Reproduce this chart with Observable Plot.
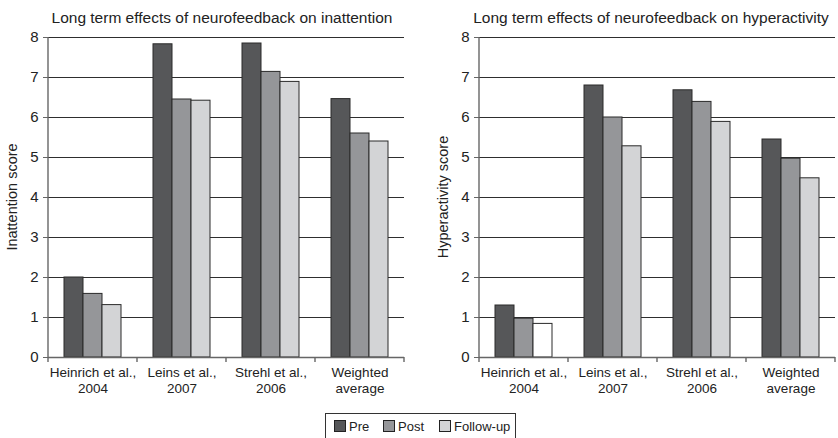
<!DOCTYPE html>
<html><head><meta charset="utf-8">
<script src="https://cdn.jsdelivr.net/npm/d3@7"></script>
<script src="https://cdn.jsdelivr.net/npm/@observablehq/plot@0.6"></script>
<style>
body{margin:0;background:#fff;font-family:"Liberation Sans",Arial,sans-serif;overflow:hidden}
#wrap{position:relative;width:838px;height:438px;overflow:hidden}
.panel{position:absolute;top:0}
.title{position:absolute;top:9px;font-size:15.5px;line-height:18px;color:#222;white-space:nowrap;transform:translateX(-50%)}
.ylab{position:absolute;font-size:14.5px;color:#222;white-space:nowrap;transform:translate(-50%,-50%) rotate(-90deg)}
.legend{position:absolute;left:325px;top:413px;width:191px;height:32px;border:1px solid #333;box-sizing:border-box;font-size:13px;color:#222}
.item{position:absolute;top:6px;height:14px;line-height:14px;white-space:nowrap}
.sw{display:inline-block;width:10px;height:10px;border:1px solid #222;vertical-align:-1px;margin-right:3px}
</style>
</head><body>
<div id="wrap"></div>
<script>
const studies = ["Heinrich et al., 2004", "Leins et al., 2007", "Strehl et al., 2006", "Weighted average"];
const studyLabels = ["Heinrich et al.,\n2004", "Leins et al.,\n2007", "Strehl et al.,\n2006", "Weighted\naverage"];
const phases = ["Pre", "Post", "Follow-up"];
const phaseColors = ["#565759", "#959699", "#d3d4d6"];
const yTicks = [0, 1, 2, 3, 4, 5, 6, 7, 8];

const inattentionPre = [2.0, 7.83, 7.85, 6.46];
const inattentionPost = [1.59, 6.45, 7.14, 5.6];
const inattentionFollow = [1.31, 6.42, 6.89, 5.4];

const hyperactivityPre = [1.3, 6.8, 6.68, 5.45];
const hyperactivityPost = [0.97, 6.0, 6.39, 4.97];
const hyperactivityFollow = [0.84, 5.28, 5.89, 4.48];

// bar drawn unfilled in the original figure
const whiteBars = [["hyperactivity", "Heinrich et al., 2004", "Follow-up"]];

const titles = ["Long term effects of neurofeedback on inattention", "Long term effects of neurofeedback on hyperactivity"];
const yLabels = ["Inattention score", "Hyperactivity score"];

const wrap = document.getElementById("wrap");

function panel(key, series, left, width, marginLeft, marginRight, titleX, ylabX, title, ylab) {
  const data = studies.flatMap((s, i) => phases.map((p, j) => ({study: s, phase: p, value: series[j][i]})));
  const colorOf = d => whiteBars.some(w => w[0] === key && w[1] === d.study && w[2] === d.phase) ? "#fff" : phaseColors[phases.indexOf(d.phase)];
  const plot = Plot.plot({
    width, height: 410,
    marginTop: 37, marginBottom: 53, marginLeft, marginRight,
    style: {fontFamily: "Liberation Sans, Arial, sans-serif", fontSize: "14px", color: "#222", background: "transparent", overflow: "visible"},
    fx: {domain: studies, paddingInner: 0, paddingOuter: 0, label: null, axis: null},
    x: {domain: phases, paddingInner: 0, paddingOuter: 0.78, axis: null},
    y: {domain: [0, 8], label: null},
    marks: [
      Plot.ruleY(yTicks, {stroke: "#2e2e2e", strokeWidth: 1}),
      Plot.barY(data, {fx: "study", x: "phase", y: "value", fill: colorOf, stroke: "#2a2a2a", strokeWidth: 1}),
      Plot.ruleY([0], {stroke: "#666", strokeWidth: 1.3}),
      Plot.axisY(yTicks, {tickSize: 5, tickPadding: 5, fontSize: 15, label: null, stroke: "#666"}),
      Plot.axisFx({anchor: "bottom", tickSize: 0, tickPadding: 8, fontSize: 13.5, lineHeight: 1.2, label: null, tickFormat: s => studyLabels[studies.indexOf(s)]})
    ]
  });
  const svg = d3.select(plot);
  const fx = plot.scale("fx"), y = plot.scale("y");
  const y0 = y.apply(0), y8 = y.apply(8);
  const x0 = fx.apply(studies[0]);
  const edges = studies.map(s => fx.apply(s)).concat([fx.apply(studies[studies.length - 1]) + fx.bandwidth]);
  const g = svg.append("g").attr("stroke", "#666").attr("stroke-width", 1.4);
  g.append("line").attr("x1", x0).attr("x2", x0).attr("y1", y8).attr("y2", y0);
  edges.forEach(e => g.append("line").attr("x1", e).attr("x2", e).attr("y1", y0).attr("y2", y0 + 5));
  const box = document.createElement("div");
  box.className = "panel";
  box.style.left = left + "px";
  box.appendChild(plot);
  wrap.appendChild(box);
  const t = document.createElement("div");
  t.className = "title"; t.textContent = title; t.style.left = titleX + "px";
  wrap.appendChild(t);
  const yl = document.createElement("div");
  yl.className = "ylab"; yl.textContent = ylab; yl.style.left = ylabX + "px"; yl.style.top = "197px";
  wrap.appendChild(yl);
}

panel("inattention", [inattentionPre, inattentionPost, inattentionFollow], 0, 419, 48, 15, 222, 12, titles[0], yLabels[0]);
panel("hyperactivity", [hyperactivityPre, hyperactivityPost, hyperactivityFollow], 419, 419, 59, 3, 651, 443, titles[1], yLabels[1]);

const legend = document.createElement("div");
legend.className = "legend";
const legendX = [8, 57, 113];
phases.forEach((p, i) => {
  const it = document.createElement("div");
  it.className = "item";
  it.style.left = legendX[i] + "px";
  it.innerHTML = `<span class="sw" style="background:${phaseColors[i]}"></span>${p}`;
  legend.appendChild(it);
});
wrap.appendChild(legend);
</script>
</body></html>
